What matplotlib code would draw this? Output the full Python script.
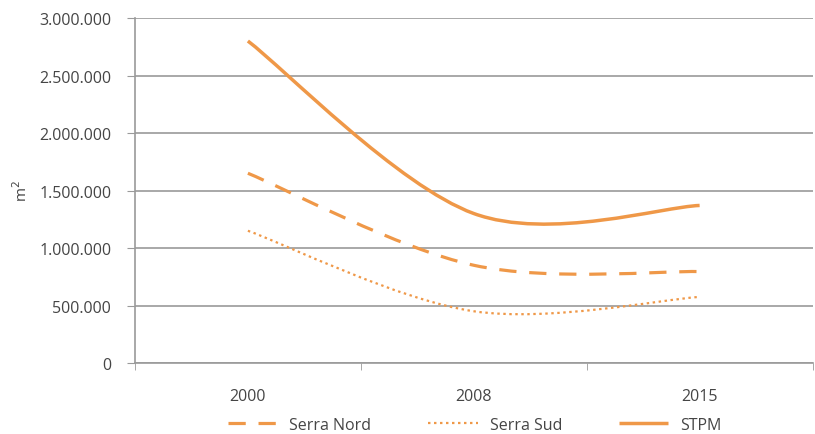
import numpy as np
import matplotlib.pyplot as plt
from matplotlib.path import Path
from matplotlib.patches import PathPatch
from matplotlib.lines import Line2D
from matplotlib.ticker import FuncFormatter

years = ['2000', '2008', '2015']
serra_nord = [1650000, 850000, 795000]
serra_sud = [1150000, 450000, 575000]
stpm = [2800000, 1300000, 1370000]

orange = '#EF9848'
grid_c = '#9a9a9a'
text_c = '#454545'

plt.rcParams['font.family'] = ['Open Sans', 'DejaVu Sans']


def smooth_path(xs, ys):
    # excel-like smoothed line: cubic bezier with catmull-rom tangents
    pts = np.column_stack([xs, ys]).astype(float)
    verts = [pts[0]]
    codes = [Path.MOVETO]
    n = len(pts)
    for i in range(n - 1):
        p0 = pts[max(i - 1, 0)]
        p1 = pts[i]
        p2 = pts[i + 1]
        p3 = pts[min(i + 2, n - 1)]
        c1 = p1 + (p2 - p0) / 6
        c2 = p2 - (p3 - p1) / 6
        verts += [c1, c2, p2]
        codes += [Path.CURVE4] * 3
    return Path(verts, codes)


fig = plt.figure(figsize=(8.15, 4.35), dpi=100)
ax = fig.add_axes([0.1656, 0.1632, 0.8314, 0.7931])

x = np.arange(len(years))
styles = [
    ('Serra Nord', serra_nord, 2.3, (0, (5.4, 4.0))),
    ('Serra Sud', serra_sud, 1.6, (0, (1.1, 1.6))),
    ('STPM', stpm, 2.5, '-'),
]
handles = []
for name, vals, lw, ls in styles:
    patch = PathPatch(smooth_path(x, vals), facecolor='none', edgecolor=orange,
                      lw=lw, linestyle=ls, capstyle='butt', zorder=3)
    ax.add_patch(patch)
    handles.append(Line2D([], [], color=orange, lw=lw, linestyle=ls,
                          solid_capstyle='butt', dash_capstyle='butt', label=name))

ax.set_xlim(-0.5, len(years) - 0.5)
ax.set_ylim(0, 3000000)
ax.set_yticks(np.arange(0, 3000001, 500000))
ax.yaxis.set_major_formatter(FuncFormatter(lambda v, p: f'{int(v):,}'.replace(',', '.')))
ax.set_xticks(x)
ax.set_xticklabels(years)
ax.set_xticks(np.arange(-0.5, len(years), 1), minor=True)

ax.grid(axis='y', color=grid_c, lw=1.2)
ax.set_axisbelow(True)
for s in ['top', 'right']:
    ax.spines[s].set_visible(False)
for s in ['left', 'bottom']:
    ax.spines[s].set_color(grid_c)
    ax.spines[s].set_linewidth(1.2)

ax.tick_params(axis='y', length=6, color=grid_c, labelsize=11.5, labelcolor=text_c, pad=11)
ax.tick_params(axis='x', which='major', length=0, labelsize=11.5, labelcolor=text_c, pad=18)
ax.tick_params(axis='x', which='minor', length=5, color=grid_c)

ax.set_ylabel('m$^2$', fontsize=11, color=text_c, labelpad=6)

fig.legend(handles=handles, loc='center left', bbox_to_anchor=(228 / 815, 1 - 426 / 435),
           ncol=3, frameon=False, fontsize=11.5, labelcolor=text_c, handlelength=3.1,
           columnspacing=3.55, handletextpad=0.75, borderpad=0, borderaxespad=0)

fig.savefig('out.png', dpi=100)
